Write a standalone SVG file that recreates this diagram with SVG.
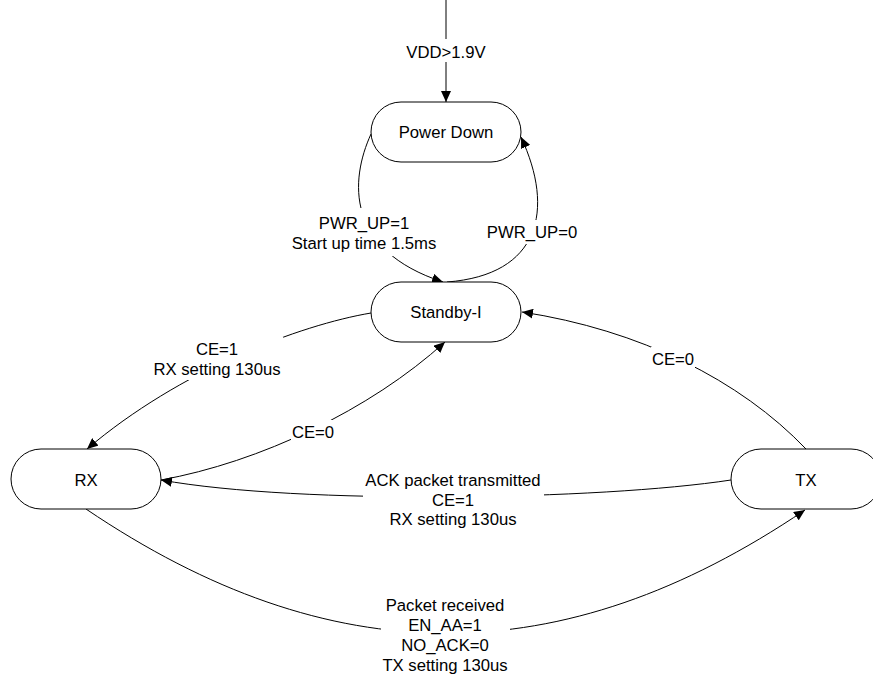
<svg xmlns="http://www.w3.org/2000/svg" width="873" height="679" viewBox="0 0 873 679">
<style>
.node{fill:#fff;stroke:#000;stroke-width:1}
.edge{fill:none;stroke:#000;stroke-width:1;marker-end:url(#arr)}
.plain{fill:none;stroke:#000;stroke-width:1}
text{font-family:"Liberation Sans",Arial,sans-serif;font-size:16.7px;fill:#000;text-anchor:middle}
</style>
<defs>
<marker id="arr" markerUnits="userSpaceOnUse" markerWidth="12" markerHeight="10" refX="11" refY="5" orient="auto">
<path d="M0,0 L11,5 L0,10 z" fill="#000"/>
</marker>
<mask id="gaps" maskUnits="userSpaceOnUse" x="0" y="0" width="873" height="679">
<rect x="0" y="0" width="873" height="679" fill="#fff"/>
<rect x="405" y="39" width="82" height="23" fill="#000"/>
<rect x="291" y="208" width="147" height="48" fill="#000"/>
<rect x="485" y="220" width="95" height="24" fill="#000"/>
<rect x="152" y="337" width="131" height="43" fill="#000"/>
<rect x="291" y="420" width="45" height="23" fill="#000"/>
<rect x="651" y="347" width="44" height="24" fill="#000"/>
<rect x="363" y="468" width="181" height="63" fill="#000"/>
<rect x="381" y="593" width="129" height="84" fill="#000"/>
</mask>
</defs>
<g id="connectors" mask="url(#gaps)">
<path class="edge" d="M446 0 L446 102"/>
<path class="edge" d="M371 134 C350 180 345 250 443 282"/>
<path class="edge" d="M447 282 C540 275 555 210 521 137"/>
<path class="edge" d="M371 313 C300 325 180 370 87 449"/>
<path class="edge" d="M161 480 C260 462 370 410 445 342"/>
<path class="edge" d="M806 449 C740 380 640 330 522 312"/>
<path class="edge" d="M731 480 C600 500 300 505 161 480"/>
<path class="edge" d="M86 509 C330 674 561 675 805 510"/>
</g>
<g id="labels">
<text x="446" y="58">VDD&gt;1.9V</text>
<text x="364" y="229">PWR_UP=1</text>
<text x="364" y="249">Start up time 1.5ms</text>
<text x="532" y="238">PWR_UP=0</text>
<text x="217" y="355">CE=1</text>
<text x="217" y="375">RX setting 130us</text>
<text x="313" y="438">CE=0</text>
<text x="673" y="365">CE=0</text>
<text x="453" y="486">ACK packet transmitted</text>
<text x="453" y="506">CE=1</text>
<text x="453" y="525">RX setting 130us</text>
<text x="445" y="611">Packet received</text>
<text x="445" y="631">EN_AA=1</text>
<text x="445" y="651">NO_ACK=0</text>
<text x="445" y="671">TX setting 130us</text>
</g>
<g id="node-powerdown">
<rect class="node" x="371" y="102" width="150" height="60" rx="30" ry="30"/>
<text x="446" y="138">Power Down</text>
</g>
<g id="node-standby">
<rect class="node" x="371" y="282" width="150" height="60" rx="30" ry="30"/>
<text x="446" y="318">Standby-I</text>
</g>
<g id="node-rx">
<rect class="node" x="11" y="449" width="150" height="60" rx="30" ry="30"/>
<text x="86" y="486">RX</text>
</g>
<g id="node-tx">
<rect class="node" x="731" y="449" width="150" height="60" rx="30" ry="30"/>
<text x="806" y="486">TX</text>
</g>
</svg>
